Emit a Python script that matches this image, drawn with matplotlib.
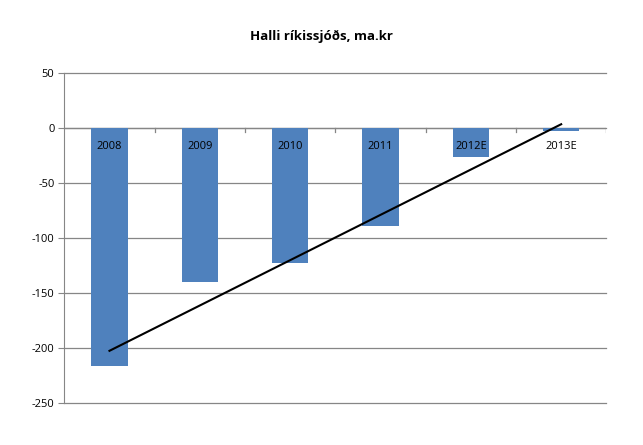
import numpy as np
import matplotlib
matplotlib.use('Agg')
import matplotlib.pyplot as plt

# Halli ríkissjóðs, ma.kr
years = ['2008', '2009', '2010', '2011', '2012E', '2013E']
deficit = [-216, -140, -123, -89, -26, -3]

plt.rcParams['font.family'] = ['Open Sans', 'DejaVu Sans']
plt.rcParams['axes.unicode_minus'] = False

fig = plt.figure(figsize=(6.43, 4.45), dpi=100)
ax = fig.add_axes([0.1, 0.094, 0.843, 0.742])

x = np.arange(len(years))
ax.bar(x, deficit, width=0.4, color='#4f81bd', zorder=2)

# linuleg leitni
k, m = np.polyfit(x, deficit, 1)
ax.plot(x, k * x + m, color='black', linewidth=1.5, zorder=3)

ax.set_xlim(-0.5, len(years) - 0.5)
ax.set_ylim(-250, 50)
ax.set_yticks(range(-250, 51, 50))
ax.set_axisbelow(True)
for yv in range(-250, 51, 50):
    ax.axhline(yv, color='#868686', linewidth=0.9, zorder=0, clip_on=False)

for s in ['top', 'right', 'bottom']:
    ax.spines[s].set_visible(False)
ax.spines['left'].set_color('#868686')

# x-ás í núlli með merkjum milli flokka
ax.axhline(0, color='#868686', linewidth=0.9, zorder=1)
ax.set_xticks([])
for b in np.arange(0.5, len(years), 1.0):
    ax.plot([b, b], [0, -3.5], color='#868686', linewidth=0.9, zorder=1)

for xi, lab in zip(x, years):
    ax.text(xi, -17, lab, ha='center', va='center', fontsize=8, zorder=4)

ax.tick_params(axis='y', labelsize=8, length=4, color='#868686', pad=3)

fig.text(0.5, 0.917, 'Halli ríkissjóðs, ma.kr', ha='center', va='center',
         fontsize=9.5, fontweight='bold')

plt.savefig('out.png', dpi=100)
